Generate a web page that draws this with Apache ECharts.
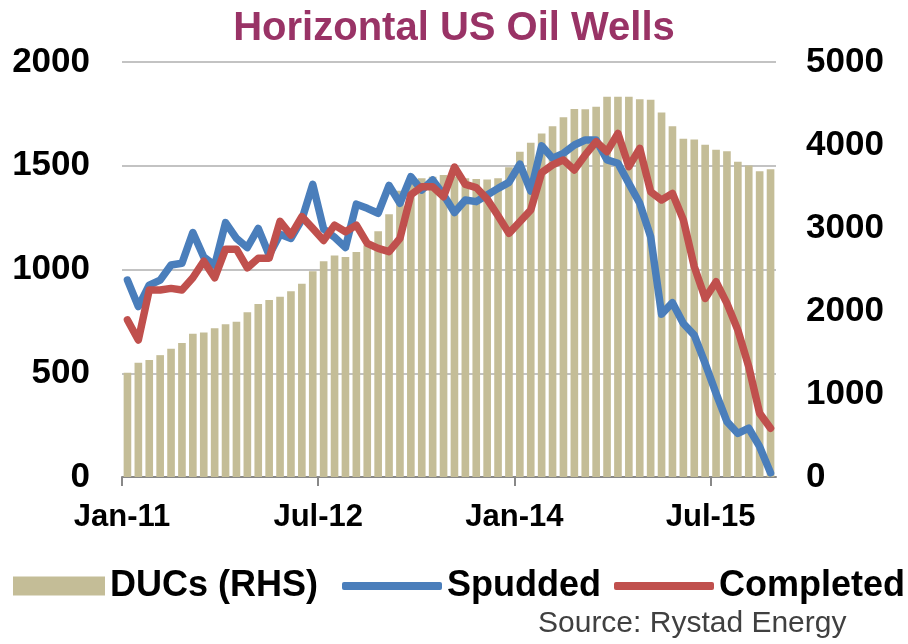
<!DOCTYPE html>
<html>
<head>
<meta charset="utf-8">
<script src="https://cdn.jsdelivr.net/npm/echarts@6/dist/echarts.min.js"></script>
<style>
  html, body { margin: 0; padding: 0; background: #fff; }
  #wellsChart { width: 908px; height: 644px; }
</style>
</head>
<body>
<div id="wellsChart"></div>
<script>
// monthly, Jan-11 .. Dec-15
var months = [];
for (var y = 11; y <= 15; y++) {
  ['Jan', 'Feb', 'Mar', 'Apr', 'May', 'Jun', 'Jul', 'Aug', 'Sep', 'Oct', 'Nov', 'Dec'].forEach(function (m) {
    months.push(m + '-' + y);
  });
}

var tickPos = [0, 18, 36, 54];
var tickLabels = ['Jan-11', 'Jul-12', 'Jan-14', 'Jul-15'];

// DUCs, right axis
var ducs = [1257, 1377, 1410, 1468, 1544, 1614, 1725, 1741, 1791, 1841,
  1869, 1984, 2084, 2133, 2171, 2239, 2327, 2478, 2600, 2669,
  2651, 2711, 2791, 2960, 3165, 3450, 3560, 3598, 3618, 3639,
  3620, 3600, 3590, 3585, 3598, 3731, 3920, 4028, 4140, 4225,
  4333, 4434, 4430, 4462, 4582, 4582, 4582, 4550, 4546, 4392,
  4225, 4076, 4066, 4004, 3944, 3924, 3799, 3753, 3683, 3709];

var spudded = [949, 821, 925, 949, 1022, 1030, 1178, 1060, 1020, 1226,
  1150, 1106, 1198, 1070, 1170, 1150, 1240, 1410, 1195, 1155,
  1106, 1315, 1295, 1271, 1405, 1319, 1447, 1383, 1431, 1360,
  1275, 1335, 1327, 1359, 1391, 1420, 1508, 1378, 1596, 1536,
  1560, 1600, 1624, 1624, 1528, 1512, 1415, 1319, 1158, 785,
  840, 740, 684, 548, 403, 267, 210, 235, 146, 20];

var completed = [757, 660, 901, 901, 909, 901, 960, 1040, 960, 1098,
  1098, 1008, 1054, 1054, 1232, 1166, 1255, 1198, 1140, 1214,
  1182, 1214, 1126, 1102, 1086, 1150, 1360, 1399, 1399, 1351,
  1494, 1410, 1395, 1339, 1259, 1174, 1230, 1287, 1467, 1504,
  1528, 1480, 1552, 1616, 1568, 1656, 1496, 1584, 1375, 1335,
  1367, 1239, 1014, 861, 941, 837, 708, 532, 307, 235];

var chart = echarts.init(document.getElementById('wellsChart'));
var fnt = 'Liberation Sans, Arial, sans-serif';
var plain = function (v) { return String(v); };

var option = {
  animation: false,
  title: {
    text: 'Horizontal US Oil Wells',
    left: 'center',
    top: 4,
    textStyle: { color: '#993366', fontSize: 40, fontWeight: 'bold', fontFamily: fnt }
  },
  grid: { left: 122, right: 132, top: 62, bottom: 167 },
  legend: [
    {
      left: 8, top: 563, itemWidth: 92, itemHeight: 19, icon: 'rect',
      data: ['DUCs (RHS)'],
      textStyle: { fontSize: 36, fontWeight: 'bold', color: '#000', fontFamily: fnt }
    },
    {
      left: 337, top: 563, itemWidth: 100, itemHeight: 8, icon: 'roundRect',
      data: ['Spudded'],
      textStyle: { fontSize: 36, fontWeight: 'bold', color: '#000', fontFamily: fnt }
    },
    {
      left: 609, top: 563, itemWidth: 100, itemHeight: 8, icon: 'roundRect',
      data: ['Completed'],
      textStyle: { fontSize: 36, fontWeight: 'bold', color: '#000', fontFamily: fnt }
    }
  ],
  graphic: [{
    type: 'text',
    left: 538,
    top: 609,
    style: { text: 'Source: Rystad Energy', fill: '#404040', fontSize: 30, fontFamily: fnt }
  }],
  xAxis: [
    {
      type: 'category',
      data: months,
      show: false
    },
    {
      type: 'value',
      min: 0,
      max: 60,
      position: 'bottom',
      axisLine: { show: true, lineStyle: { color: '#888', width: 2 } },
      axisTick: { show: true, customValues: tickPos, length: 9, lineStyle: { color: '#888', width: 2 } },
      axisLabel: {
        customValues: tickPos,
        margin: 25,
        fontSize: 31, fontWeight: 'bold', color: '#000', fontFamily: fnt,
        formatter: function (v) {
          var k = tickPos.indexOf(v);
          return k >= 0 ? tickLabels[k] : '';
        }
      },
      splitLine: { show: false }
    }
  ],
  yAxis: [
    {
      type: 'value',
      min: 0, max: 2000, interval: 500,
      axisLine: { show: false },
      axisTick: { show: false },
      axisLabel: { margin: 32, fontSize: 35, fontWeight: 'bold', color: '#000', fontFamily: fnt, formatter: plain },
      splitLine: { lineStyle: { color: '#c3c3c3', width: 2 } }
    },
    {
      type: 'value',
      min: 0, max: 5000, interval: 1000,
      axisLine: { show: false },
      axisTick: { show: false },
      axisLabel: { margin: 30, fontSize: 35, fontWeight: 'bold', color: '#000', fontFamily: fnt, formatter: plain },
      splitLine: { show: false }
    }
  ],
  series: [
    {
      name: 'DUCs (RHS)',
      type: 'bar',
      xAxisIndex: 0,
      yAxisIndex: 1,
      barCategoryGap: '30%',
      itemStyle: { color: '#c4bd97' },
      data: ducs
    },
    {
      name: 'Spudded',
      type: 'line',
      xAxisIndex: 0,
      yAxisIndex: 0,
      symbol: 'none',
      itemStyle: { color: '#4a7ebb' },
      lineStyle: { color: '#4a7ebb', width: 7.5, cap: 'round', join: 'round' },
      data: spudded
    },
    {
      name: 'Completed',
      type: 'line',
      xAxisIndex: 0,
      yAxisIndex: 0,
      symbol: 'none',
      itemStyle: { color: '#c0504d' },
      lineStyle: { color: '#c0504d', width: 7.5, cap: 'round', join: 'round' },
      data: completed
    }
  ]
};

chart.setOption(option);
</script>
</body>
</html>
